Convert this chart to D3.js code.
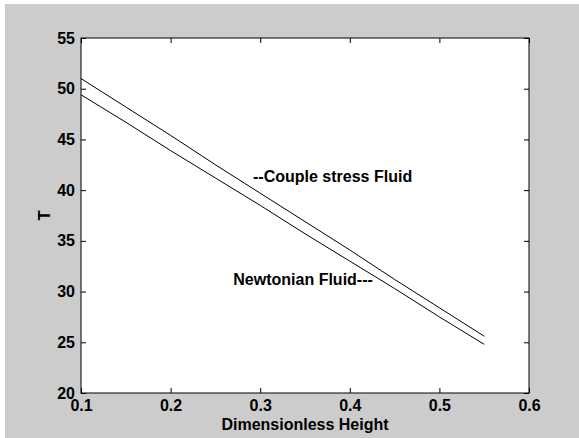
<!DOCTYPE html>
<html>
<head>
<meta charset="utf-8">
<script src="https://cdn.jsdelivr.net/npm/d3@7"></script>
<style>
  html, body { margin: 0; padding: 0; background: #ffffff; }
  text { font-family: "Liberation Sans", Arial, sans-serif; }
</style>
</head>
<body>
<div id="chart"></div>
<script>
// heights (x) and values
var heights = [0.10, 0.15, 0.20, 0.25, 0.30, 0.35, 0.40, 0.45, 0.50, 0.55];
var coupleStress = [51.0, 48.2, 45.4, 42.5, 39.7, 36.9, 34.1, 31.2, 28.4, 25.6];
var newtonian = [49.4, 46.7, 43.9, 41.2, 38.5, 35.7, 33.0, 30.3, 27.5, 24.8];
var xTicks = [0.1, 0.2, 0.3, 0.4, 0.5, 0.6];
var yTicks = [20, 25, 30, 35, 40, 45, 50, 55];

var width = 579, height = 438;
var plot = { left: 81, top: 38, right: 529, bottom: 393 };

var svg = d3.select('#chart')
    .append('svg')
    .attr('width', width)
    .attr('height', height);

// gray figure background
svg.append('rect')
    .attr('x', 5).attr('y', 4)
    .attr('width', width - 5).attr('height', height - 4)
    .attr('fill', '#cccccc');

var x = d3.scaleLinear().domain([0.1, 0.6]).range([plot.left, plot.right]);
var y = d3.scaleLinear().domain([20, 55]).range([plot.bottom, plot.top]);

svg.append('rect')
    .attr('x', plot.left).attr('y', plot.top)
    .attr('width', plot.right - plot.left)
    .attr('height', plot.bottom - plot.top)
    .attr('fill', '#ffffff');

// axes with inward ticks on all four sides
function styleAxis(g) {
    g.select('.domain').remove();
    g.selectAll('.tick line').attr('stroke', '#000');
    g.selectAll('text')
        .attr('font-size', 16)
        .attr('font-weight', 'bold')
        .attr('fill', '#000');
}

svg.append('g')
    .attr('transform', 'translate(0,' + plot.bottom + ')')
    .call(d3.axisBottom(x).tickValues(xTicks).tickSizeInner(-5).tickSizeOuter(0).tickPadding(4).tickFormat(d3.format('.1f')))
    .call(styleAxis)
    .selectAll('text').attr('dy', null).attr('y', 18);

svg.append('g')
    .attr('transform', 'translate(0,' + plot.top + ')')
    .call(d3.axisTop(x).tickValues(xTicks).tickSizeInner(-5).tickSizeOuter(0).tickFormat(''))
    .call(styleAxis);

svg.append('g')
    .attr('transform', 'translate(' + plot.left + ',0)')
    .call(d3.axisLeft(y).tickValues(yTicks).tickSizeInner(-5).tickSizeOuter(0).tickPadding(6))
    .call(styleAxis);

svg.append('g')
    .attr('transform', 'translate(' + plot.right + ',0)')
    .call(d3.axisRight(y).tickValues(yTicks).tickSizeInner(-5).tickSizeOuter(0).tickFormat(''))
    .call(styleAxis);

// plot box
svg.append('rect')
    .attr('x', plot.left).attr('y', plot.top)
    .attr('width', plot.right - plot.left)
    .attr('height', plot.bottom - plot.top)
    .attr('fill', 'none')
    .attr('stroke', '#000')
    .attr('stroke-width', 1);

var line = d3.line()
    .x(function (d) { return x(d[0]); })
    .y(function (d) { return y(d[1]); });

[coupleStress, newtonian].forEach(function (series) {
    svg.append('path')
        .datum(heights.map(function (h, i) { return [h, series[i]]; }))
        .attr('d', line)
        .attr('fill', 'none')
        .attr('stroke', '#000')
        .attr('stroke-width', 1);
});

// annotations
svg.append('text')
    .attr('x', x(0.292)).attr('y', y(40.8))
    .attr('font-size', 16)
    .attr('font-weight', 'bold')
    .text('--Couple stress Fluid');

svg.append('text')
    .attr('x', x(0.270)).attr('y', y(30.6))
    .attr('font-size', 16)
    .attr('font-weight', 'bold')
    .text('Newtonian Fluid---');

// axis titles
svg.append('text')
    .attr('x', (plot.left + plot.right) / 2).attr('y', 430)
    .attr('text-anchor', 'middle')
    .attr('font-size', 16)
    .attr('font-weight', 'bold')
    .text('Dimensionless Height');

svg.append('text')
    .attr('transform', 'translate(50,' + ((plot.top + plot.bottom) / 2) + ') rotate(-90)')
    .attr('text-anchor', 'middle')
    .attr('font-size', 16.5)
    .attr('font-weight', 'bold')
    .text('T');
</script>
</body>
</html>
